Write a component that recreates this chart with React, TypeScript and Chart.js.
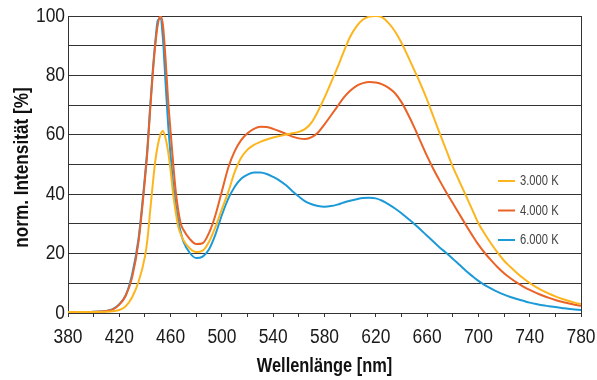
import React, { useEffect, useRef } from 'react';
import { Chart, registerables } from 'chart.js';

Chart.register(...registerables);

const wavelengths = [380, 385, 390, 395, 400, 405, 410, 415, 420, 425, 430, 435, 440, 442, 444, 446, 448, 450, 452, 454, 456, 458, 460, 462, 464, 466, 468, 470, 475, 480, 485, 490, 495, 500, 505, 510, 515, 520, 525, 530, 535, 540, 545, 550, 555, 560, 565, 570, 575, 580, 585, 590, 595, 600, 605, 610, 615, 620, 625, 630, 635, 640, 645, 650, 655, 660, 665, 670, 675, 680, 685, 690, 695, 700, 705, 710, 715, 720, 725, 730, 735, 740, 745, 750, 755, 760, 765, 770, 775, 780];

const cct3000 = [0.3, 0.3, 0.3, 0.3, 0.3, 0.3, 0.4, 0.6, 1.0, 2.3, 5.3, 10.5, 19, 25, 34, 43, 51, 56.5, 60, 61.3, 59, 54.5, 48, 40, 34, 29, 26.5, 24.5, 21.7, 20.5, 21, 24, 29, 35, 40.8, 47.5, 52.3, 55, 56.6, 57.6, 58.4, 59.1, 59.6, 60.1, 60.5, 61, 62, 64.2, 68, 72.5, 77.5, 82.5, 88, 93, 96.5, 98.8, 99.8, 100, 99.5, 97.6, 94.8, 91, 86.5, 81.8, 77, 71.8, 66, 60.3, 54.8, 49.3, 44.5, 39.8, 35, 30.2, 26.6, 23.3, 20.3, 17.6, 15.5, 13.5, 11.7, 10.1, 8.7, 7.5, 6.5, 5.6, 4.8, 4.1, 3.5, 3.0];

const cct4000 = [0.3, 0.3, 0.3, 0.3, 0.4, 0.5, 0.7, 1.2, 2.8, 5.8, 12, 24, 45, 55, 68, 80, 90, 97, 100, 97, 86, 72, 61, 50.5, 41, 34.5, 30, 28, 24.9, 23.2, 23.5, 27, 33, 41, 49, 54.5, 58.2, 60.5, 62, 62.7, 62.6, 62, 61.2, 60.3, 59.4, 58.8, 58.6, 59.2, 60.8, 63.5, 66.5, 69.5, 72.5, 74.8, 76.5, 77.4, 77.8, 77.6, 77, 75.8, 74, 71, 67, 62.5, 57.6, 52.8, 48.4, 44.4, 40.6, 37, 33.4, 29.8, 26.3, 23, 20.2, 17.7, 15.4, 13.4, 11.7, 10.2, 8.9, 7.8, 6.8, 5.9, 5.1, 4.4, 3.8, 3.3, 2.8, 2.4];

const cct6000 = [0.3, 0.3, 0.3, 0.3, 0.4, 0.5, 0.7, 1.3, 3.0, 6.0, 13, 25, 46, 56, 69, 81, 91, 98.5, 99.2, 92.5, 78, 64, 53, 43.5, 36.5, 31, 27, 24, 20.2, 18.5, 19, 21.5, 26.5, 33, 38.5, 42.5, 45.2, 46.6, 47.3, 47.3, 46.8, 45.8, 44.6, 43.0, 41.0, 39.2, 37.6, 36.6, 36.0, 35.8, 36.0, 36.5, 37.2, 37.8, 38.3, 38.7, 38.8, 38.6, 37.8, 36.6, 35.2, 33.6, 31.8, 30.0, 28.0, 26.0, 24.0, 22.0, 20.2, 18.3, 16.3, 14.3, 12.5, 10.8, 9.4, 8.2, 7.1, 6.2, 5.4, 4.7, 4.1, 3.5, 3.0, 2.6, 2.3, 2.0, 1.7, 1.4, 1.2, 1.0];

const xTickLabels = ['380', '420', '460', '500', '540', '580', '620', '660', '700', '740', '780'];
const yTickLabels = ['0', '20', '40', '60', '80', '100'];
const seriesLabels = ['3.000 K', '4.000 K', '6.000 K'];
const seriesColors = ['#FDB51E', '#EA6226', '#1C9AD8'];
const xTitle = 'Wellenlänge [nm]';
const yTitle = 'norm. Intensität [%]';

const FONT = '"Liberation Sans", Arial, sans-serif';

function drawNarrow(ctx: CanvasRenderingContext2D, text: string, x: number, y: number, sx: number) {
  ctx.save();
  ctx.scale(sx, 1);
  ctx.fillText(text, x / sx, y);
  ctx.restore();
}

const decorPlugin = {
  id: 'decor',
  afterDraw(chart: any) {
    const { ctx, chartArea: a } = chart;
    const xs = chart.scales.x;
    const ys = chart.scales.y;
    ctx.save();
    // right border
    ctx.strokeStyle = '#333';
    ctx.lineWidth = 1;
    const rx = Math.round(a.right) + 0.5;
    ctx.beginPath();
    ctx.moveTo(rx, a.top);
    ctx.lineTo(rx, a.bottom);
    ctx.stroke();

    // tick labels
    ctx.fillStyle = '#1a1a1a';
    ctx.textBaseline = 'middle';
    ctx.font = `20px ${FONT}`;
    ctx.textAlign = 'center';
    xTickLabels.forEach((t) => {
      drawNarrow(ctx, t, xs.getPixelForValue(Number(t)), a.bottom + 24.5, 0.87);
    });
    ctx.textAlign = 'right';
    yTickLabels.forEach((t) => {
      drawNarrow(ctx, t, a.left - 3, ys.getPixelForValue(Number(t)), 0.87);
    });

    // axis titles
    ctx.fillStyle = '#111';
    ctx.textAlign = 'center';
    ctx.font = `bold 20px ${FONT}`;
    drawNarrow(ctx, xTitle, (a.left + a.right) / 2, 366, 0.82);
    ctx.save();
    ctx.translate(22, (a.top + a.bottom) / 2 + 3);
    ctx.rotate(-Math.PI / 2);
    drawNarrow(ctx, yTitle, 0, 0, 0.86);
    ctx.restore();

    // legend inside plot
    const ds = chart.data.datasets;
    ctx.font = `14px ${FONT}`;
    ctx.textAlign = 'left';
    ds.forEach((d: any, i: number) => {
      const y = a.top + 165 + i * 29.5;
      ctx.strokeStyle = d.borderColor;
      ctx.lineWidth = 2;
      ctx.beginPath();
      ctx.moveTo(a.right - 83, y);
      ctx.lineTo(a.right - 66, y);
      ctx.stroke();
      ctx.fillStyle = '#444';
      drawNarrow(ctx, d.label, a.right - 61, y + 0.5, 0.8);
    });
    ctx.restore();
  },
};

export default function App() {
  const ref = useRef<HTMLCanvasElement>(null);

  useEffect(() => {
    document.body.style.margin = '0';
    const mk = (vals: number[]) => wavelengths.map((x, i) => ({ x, y: vals[i] }));
    const chart = new Chart(ref.current as HTMLCanvasElement, {
      type: 'line',
      data: {
        datasets: [cct3000, cct4000, cct6000].map((v, i) => ({
          label: seriesLabels[i],
          data: mk(v),
          borderColor: seriesColors[i],
          backgroundColor: seriesColors[i],
          borderWidth: 2,
          pointRadius: 0,
          cubicInterpolationMode: 'monotone' as const,
          fill: false,
        })),
      },
      options: {
        animation: false,
        responsive: false,
        devicePixelRatio: 1,
        layout: { padding: { top: 16, right: 16, left: 0, bottom: 0 } },
        plugins: { legend: { display: false }, tooltip: { enabled: false } },
        scales: {
          x: {
            type: 'linear',
            min: 380,
            max: 780,
            afterFit: (s: any) => { s.height = 67; },
            border: { display: true, color: '#333', width: 1 },
            grid: { drawOnChartArea: false, drawTicks: true, tickLength: 4, color: '#333' },
            ticks: { stepSize: 20, autoSkip: false, display: false },
          },
          y: {
            min: 0,
            max: 100,
            afterFit: (s: any) => { s.width = 68; },
            border: { display: true, color: '#333', width: 1 },
            grid: { drawTicks: false, color: '#333', lineWidth: 1 },
            ticks: { stepSize: 10, display: false },
          },
        },
      },
      plugins: [decorPlugin],
    });
    return () => chart.destroy();
  }, []);

  return (
    <div style={{ width: 597, height: 380, background: '#fff' }}>
      <canvas ref={ref} width={597} height={380} />
    </div>
  );
}
